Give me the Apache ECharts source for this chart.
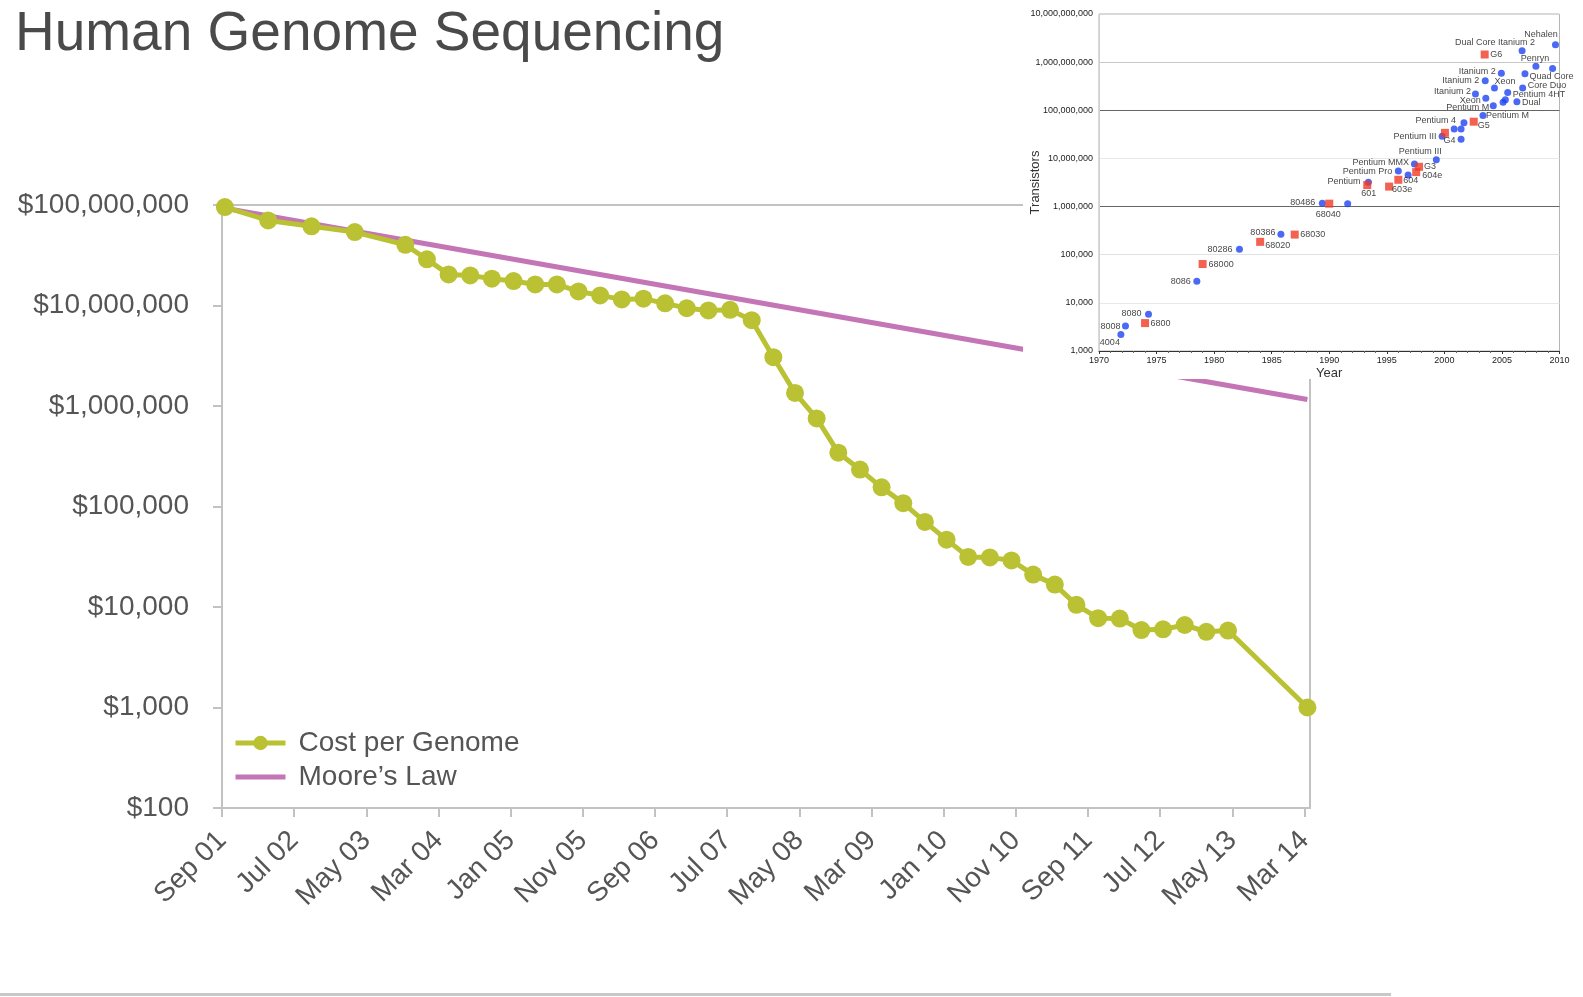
<!DOCTYPE html>
<html>
<head>
<meta charset="utf-8">
<title>Human Genome Sequencing</title>
<script src="https://cdn.jsdelivr.net/npm/echarts@6/dist/echarts.min.js"></script>
<style>
  html, body { margin: 0; padding: 0; background: #fff; }
  #chart { width: 1583px; height: 997px; }
</style>
</head>
<body>
<div id="chart"></div>
<script>
// cost per genome, dates as year-month
var costDates = ['2001-09', '2002-03', '2002-09', '2003-03', '2003-10', '2004-01', '2004-04', '2004-07',
  '2004-10', '2005-01', '2005-04', '2005-07', '2005-10', '2006-01', '2006-04', '2006-07', '2006-10',
  '2007-01', '2007-04', '2007-07', '2007-10', '2008-01', '2008-04', '2008-07', '2008-10', '2009-01',
  '2009-04', '2009-07', '2009-10', '2010-01', '2010-04', '2010-07', '2010-10', '2011-01', '2011-04',
  '2011-07', '2011-10', '2012-01', '2012-04', '2012-07', '2012-10', '2013-01', '2013-04', '2014-03'];
var costValues = [95300000, 70200000, 61400000, 53800000, 40200000, 28800000, 20400000, 19900000,
  18500000, 17500000, 16200000, 16200000, 13800000, 12600000, 11500000, 11700000, 10500000,
  9410000, 8930000, 9050000, 7150000, 3060000, 1350000, 752000, 343000, 233000,
  155000, 108000, 70300, 46800, 31500, 31100, 29100, 21000, 16700,
  10500, 7740, 7670, 5900, 5990, 6620, 5670, 5830, 1000];
var mooreDates = ['2001-09', '2014-03'];
var mooreValues = [93000000, 1160000];
var xTickLabels = ['Sep 01', 'Jul 02', 'May 03', 'Mar 04', 'Jan 05', 'Nov 05', 'Sep 06', 'Jul 07',
  'May 08', 'Mar 09', 'Jan 10', 'Nov 10', 'Sep 11', 'Jul 12', 'May 13', 'Mar 14'];

// inset: transistor counts
var intelNames = ['4004', '8008', '8080', '8086', '80286', '80386', '80486', '', 'Pentium', 'Pentium Pro', '',
  'Pentium MMX', 'Pentium III', 'Pentium III', '', '', 'Pentium 4', '', 'Pentium M', 'Pentium M', 'Xeon',
  'Itanium 2', 'Itanium 2', 'Itanium 2', 'Xeon', '', '', 'Pentium 4HT', 'Dual', 'Core Duo', 'Quad Core',
  'Penryn', '', 'Dual Core Itanium 2', 'Nehalen', ''];
var intelYears = [1971.9, 1972.3, 1974.3, 1978.5, 1982.2, 1985.8, 1989.4, 1991.6, 1993.4, 1996.0, 1996.85,
  1997.4, 1999.3, 1999.8, 2000.85, 2001.45, 2001.7, 2001.45, 2003.35, 2004.25, 2003.6,
  2002.7, 2003.55, 2004.95, 2004.35, 2005.1, 2005.3, 2005.5, 2006.3, 2006.8, 2007.0,
  2007.95, 2009.4, 2006.75, 2009.65, 2010.35];
var intelCounts = [2200, 3300, 5800, 28000, 130000, 265000, 1170000, 1150000, 3200000, 5500000, 4500000,
  7700000, 9400000, 29000000, 41000000, 41000000, 55000000, 25000000, 78000000, 124000000, 177000000,
  218000000, 410000000, 590000000, 290000000, 146000000, 166000000, 233000000, 150000000, 291000000, 575000000,
  820000000, 735000000, 1730000000, 2300000000, 1870000000];
var motoNames = ['6800', '68000', '68020', '68030', '68040', '601', '603e', '604', '604e', 'G3', 'G4', 'G5', 'G6'];
var motoYears = [1974.0, 1979.0, 1984.0, 1987.0, 1990.0, 1993.3, 1995.2, 1996.0, 1997.55, 1997.8, 2000.05, 2002.55, 2003.5];
var motoCounts = [3800, 64000, 185000, 262000, 1150000, 2800000, 2600000, 3600000, 5200000, 6700000, 34000000, 58000000, 1440000000];

// label placement for the inset points: [dx, dy, align]
var intelLabelPos = [[-11, 8, 'center'], [-5, 0, 'right'], [-7, -1, 'right'], [-6, 0, 'right'], [-7, 0, 'right'],
  [-5.5, -2, 'right'], [-7, -1, 'right'], null, [-8, -1, 'right'], [-6, 1, 'right'], null,
  [-5.5, -1, 'right'], [-16, -8, 'center'], [-5.5, 0, 'right'], null, null, [-8, -2.5, 'right'], null,
  [3, 0, 'left'], [-4, 2, 'right'], [-5, 2, 'right'], [-4.5, -2, 'right'], [-6, 0, 'right'],
  [-5.5, -1.5, 'right'], [0, -6.5, 'left'], null, null, [5, 1.5, 'left'], [5, 1, 'left'],
  [5, -2.5, 'left'], [4.5, 2.5, 'left'], [-1, -8, 'center'], null, [-27, -7.7, 'center'],
  [-14.5, -10.5, 'center'], null];
var motoLabelPos = [[5.5, 0, 'left'], [6, 0, 'left'], [5, 3.5, 'left'], [5.5, 0, 'left'], [-1, 11, 'center'],
  [1.5, 8, 'center'], [3, 3, 'left'], [5, 0.5, 'left'], [6, 3.5, 'left'], [5, 0, 'left'],
  [-1.5, 8, 'left'], [4, 4, 'left'], [5.5, 0, 'left']];

var FONT = "'Helvetica Neue', Helvetica, 'Liberation Sans', Arial, sans-serif";
var GREY_TEXT = '#555';
var AXIS_GREY = '#c2c2c2';

// months since Sep 2001; points sit a little after their month tick
function monthIndex(s) {
  var p = s.split('-');
  return (Number(p[0]) - 2001) * 12 + (Number(p[1]) - 9) + 0.4;
}

function pointsOf(names, years, counts, pos) {
  return years.map(function (yr, i) {
    var item = { name: names[i], value: [yr, counts[i]] };
    var lp = pos[i];
    if (lp && names[i]) {
      item.label = { show: true, offset: [lp[0], lp[1]], align: lp[2] };
    } else {
      item.label = { show: false };
    }
    return item;
  });
}

var insetLabel = {
  position: 'inside',
  formatter: '{b}',
  color: '#111',
  fontSize: 9,
  fontFamily: FONT,
  verticalAlign: 'middle',
  textBorderWidth: 0
};

var myChart = echarts.init(document.getElementById('chart'));
var option = {
  animation: false,
  backgroundColor: '#fff',
  title: {
    text: 'Human Genome Sequencing',
    left: 10,
    top: 2,
    textStyle: { fontSize: 55, fontWeight: 'normal', color: '#4a4a4a', fontFamily: FONT }
  },
  legend: {
    orient: 'vertical',
    left: 233,
    top: 729,
    padding: 0,
    itemWidth: 50,
    itemHeight: 18,
    itemGap: 6,
    lineStyle: { width: 5 },
    data: [
      { name: 'Cost per Genome' },
      { name: 'Moore\u2019s Law', itemStyle: { color: 'rgba(0,0,0,0)', borderWidth: 0 } }
    ],
    textStyle: { fontSize: 28, color: GREY_TEXT, fontFamily: FONT, padding: [0, 0, 0, 8] }
  },
  grid: [
    { left: 222, right: 273, top: 205, bottom: 189, show: true, borderColor: AXIS_GREY, borderWidth: 2 },
    { left: 1099, right: 23.5, top: 14, bottom: 646, show: true, borderColor: '#b5b5b5', borderWidth: 1, z: 15 }
  ],
  graphic: [
    { type: 'rect', z: 10, shape: { x: 1023, y: 0, width: 560, height: 379 }, style: { fill: '#fff' } },
    { type: 'rect', z: 1, shape: { x: 0, y: 993, width: 1391, height: 3 }, style: { fill: '#c8c8c8' } }
  ],
  xAxis: [
    {
      gridIndex: 0,
      type: 'value',
      min: 0,
      max: 150.76,
      interval: 10,
      splitLine: { show: false },
      axisLine: { lineStyle: { color: AXIS_GREY, width: 2 } },
      axisTick: { length: 9, lineStyle: { color: AXIS_GREY, width: 2 } },
      axisLabel: {
        rotate: 45,
        margin: 28,
        fontSize: 28,
        color: GREY_TEXT,
        fontFamily: FONT,
        showMaxLabel: false,
        formatter: function (v) {
          var k = v / 10;
          if (Math.abs(k - Math.round(k)) > 1e-6) return '';
          return xTickLabels[Math.round(k)] || '';
        }
      }
    },
    {
      gridIndex: 1,
      type: 'value',
      min: 1970,
      max: 2010,
      interval: 5,
      z: 16,
      name: 'Year',
      nameLocation: 'middle',
      nameGap: 16,
      nameTextStyle: { fontSize: 13, color: '#333', fontFamily: FONT },
      splitLine: { show: false },
      axisLine: { lineStyle: { color: '#333', width: 1 } },
      axisTick: { length: 3, lineStyle: { color: '#333' } },
      minorTick: { show: true, splitNumber: 5, length: 2, lineStyle: { color: '#666' } },
      axisLabel: {
        fontSize: 9, color: '#222', fontFamily: FONT, margin: 5,
        formatter: function (v) { return String(v); }
      }
    }
  ],
  yAxis: [
    {
      gridIndex: 0,
      type: 'log',
      logBase: 10,
      min: 100,
      max: 100000000,
      splitNumber: 6,
      splitLine: { show: false },
      axisLine: { show: true, lineStyle: { color: AXIS_GREY, width: 2 } },
      axisTick: { show: true, length: 9, lineStyle: { color: AXIS_GREY, width: 2 } },
      axisLabel: {
        margin: 33,
        fontSize: 28,
        color: GREY_TEXT,
        fontFamily: FONT,
        formatter: function (v) { return '$' + Math.round(v).toLocaleString('en-US'); }
      }
    },
    {
      gridIndex: 1,
      type: 'log',
      logBase: 10,
      min: 1000,
      max: 10000000000,
      splitNumber: 7,
      z: 16,
      name: 'Transistors',
      nameLocation: 'middle',
      nameRotate: 90,
      nameGap: 57,
      nameMoveOverlap: false,
      nameTextStyle: { fontSize: 13, color: '#333', fontFamily: FONT },
      splitLine: {
        show: true,
        lineStyle: { width: 1, color: ['#d8d8d8', '#333', '#e8e8e8', '#e2e2e2', '#666', '#e8e8e8', '#666', '#c8c8c8'] }
      },
      axisLine: { show: true, lineStyle: { color: '#d0d0d0', width: 1 } },
      axisTick: { show: false },
      axisLabel: {
        fontSize: 9,
        color: '#222',
        fontFamily: FONT,
        margin: 6,
        formatter: function (v) { return Math.round(v).toLocaleString('en-US'); }
      }
    }
  ],
  series: [
    {
      name: 'Moore\u2019s Law',
      type: 'line',
      xAxisIndex: 0,
      yAxisIndex: 0,
      symbol: 'none',
      lineStyle: { color: '#c475b5', width: 5 },
      itemStyle: { color: '#c475b5' },
      data: mooreDates.map(function (d, i) { return [monthIndex(d), mooreValues[i]]; })
    },
    {
      name: 'Cost per Genome',
      type: 'line',
      xAxisIndex: 0,
      yAxisIndex: 0,
      symbol: 'circle',
      symbolSize: 18,
      lineStyle: { color: '#bac234', width: 5 },
      itemStyle: { color: '#bac234' },
      data: costDates.map(function (d, i) { return [monthIndex(d), costValues[i]]; })
    },
    {
      name: 'Intel',
      type: 'scatter',
      xAxisIndex: 1,
      yAxisIndex: 1,
      z: 20,
      symbol: 'circle',
      symbolSize: 7,
      itemStyle: { color: '#1f44f2' },
      label: insetLabel,
      data: pointsOf(intelNames, intelYears, intelCounts, intelLabelPos)
    },
    {
      name: 'Motorola / IBM',
      type: 'scatter',
      xAxisIndex: 1,
      yAxisIndex: 1,
      z: 21,
      symbol: 'rect',
      symbolSize: 8,
      itemStyle: { color: '#f03a24' },
      label: insetLabel,
      data: pointsOf(motoNames, motoYears, motoCounts, motoLabelPos)
    }
  ]
};
myChart.setOption(option);
</script>
</body>
</html>
